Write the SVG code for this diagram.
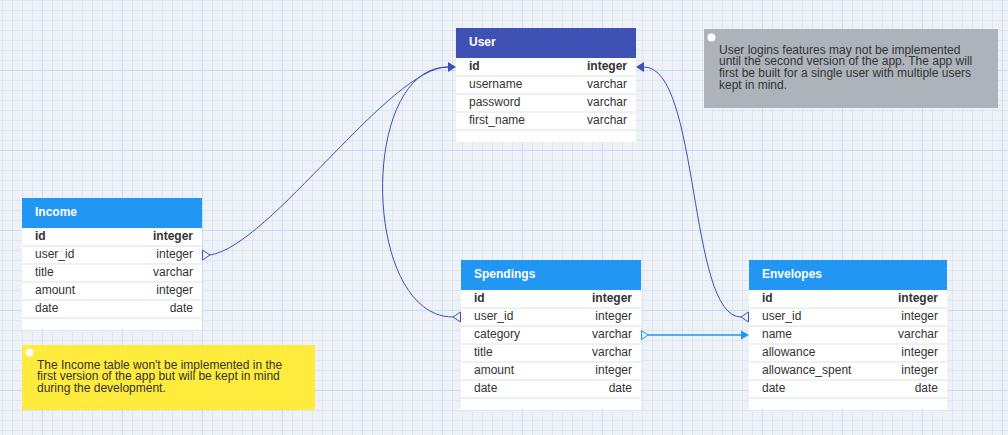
<svg xmlns="http://www.w3.org/2000/svg" width="1008" height="435" viewBox="0 0 1008 435">
<defs>
<pattern id="grid" x="42" y="70" width="80" height="80" patternUnits="userSpaceOnUse">
<path d="M10.5 0V80M20.5 0V80M30.5 0V80M40.5 0V80M50.5 0V80M60.5 0V80M70.5 0V80M0 10.5H80M0 20.5H80M0 30.5H80M0 40.5H80M0 50.5H80M0 60.5H80M0 70.5H80" stroke="#DCE7F5" stroke-width="1" fill="none"/>
<path d="M0.5 0V80M0 0.5H80" stroke="#CADCF3" stroke-width="1" fill="none"/>
</pattern>
<style>
text{font-family:"Liberation Sans",Arial,Helvetica,sans-serif;font-size:12px;fill:#333}
.hd{font-weight:bold;fill:#fff}
.b{font-weight:bold}
.r{text-anchor:end}
.body{fill:#fff}
.sep{stroke:#EEF0F3;stroke-width:2}
.cn{fill:none;stroke:#3F51B5;stroke-width:1}
.cl{fill:none;stroke:#2196F3;stroke-width:1.5}
.note{font-size:12px;fill:#333}
</style>
</defs>
<rect width="1008" height="435" fill="#EEF1F5"/>
<rect width="1008" height="435" fill="url(#grid)"/>

<g id="connectors">
<path class="cn" d="M210,255 C270,246 390,67 448,67"/>
<path class="cn" d="M453,317 C362,317 358,67 448,67"/>
<path class="cn" d="M644,67 C700,67 688,317 741,317"/>
<polygon points="448,62 456,67 448,72" fill="#3F51B5"/>
<polygon points="644,62 636,67 644,72" fill="#3F51B5"/>
<polygon class="cn" points="202.5,250 210,255 202.5,260"/>
<polygon class="cn" points="460.5,312 453,317 460.5,322"/>
<polygon class="cn" points="748.5,312 741,317 748.5,322"/>
<path class="cl" d="M648,335 L742,335"/>
<polygon points="641.5,330.5 648,335 641.5,339.5" fill="none" stroke="#2196F3" stroke-width="1"/>
<polygon points="741,330.5 749,335 741,339.5" fill="#2196F3"/>
</g>

<g id="user">
<rect x="456" y="28" width="180" height="30" fill="#3F51B5"/>
<rect class="body" x="456" y="58" width="180" height="84"/>
<path class="sep" d="M456 76H636M456 94H636M456 112H636M456 130H636"/>
<text class="hd" x="469" y="46">User</text>
<text class="b" x="469" y="70">id</text><text class="b r" x="627" y="70">integer</text>
<text x="469" y="88">username</text><text class="r" x="627" y="88">varchar</text>
<text x="469" y="106">password</text><text class="r" x="627" y="106">varchar</text>
<text x="469" y="124">first_name</text><text class="r" x="627" y="124">varchar</text>
</g>

<g id="income">
<rect x="22" y="198" width="180" height="30" fill="#2196F3"/>
<rect class="body" x="22" y="228" width="180" height="102"/>
<path class="sep" d="M22 246H202M22 264H202M22 282H202M22 300H202M22 318H202"/>
<text class="hd" x="35" y="216">Income</text>
<text class="b" x="35" y="240">id</text><text class="b r" x="193" y="240">integer</text>
<text x="35" y="258">user_id</text><text class="r" x="193" y="258">integer</text>
<text x="35" y="276">title</text><text class="r" x="193" y="276">varchar</text>
<text x="35" y="294">amount</text><text class="r" x="193" y="294">integer</text>
<text x="35" y="312">date</text><text class="r" x="193" y="312">date</text>
</g>

<g id="spendings">
<rect x="461" y="260" width="180" height="30" fill="#2196F3"/>
<rect class="body" x="461" y="290" width="180" height="120"/>
<path class="sep" d="M461 308H641M461 326H641M461 344H641M461 362H641M461 380H641M461 398H641"/>
<text class="hd" x="474" y="278">Spendings</text>
<text class="b" x="474" y="302">id</text><text class="b r" x="632" y="302">integer</text>
<text x="474" y="320">user_id</text><text class="r" x="632" y="320">integer</text>
<text x="474" y="338">category</text><text class="r" x="632" y="338">varchar</text>
<text x="474" y="356">title</text><text class="r" x="632" y="356">varchar</text>
<text x="474" y="374">amount</text><text class="r" x="632" y="374">integer</text>
<text x="474" y="392">date</text><text class="r" x="632" y="392">date</text>
</g>

<g id="envelopes">
<rect x="749" y="260" width="198" height="30" fill="#2196F3"/>
<rect class="body" x="749" y="290" width="198" height="120"/>
<path class="sep" d="M749 308H947M749 326H947M749 344H947M749 362H947M749 380H947M749 398H947"/>
<text class="hd" x="762" y="278">Envelopes</text>
<text class="b" x="762" y="302">id</text><text class="b r" x="938" y="302">integer</text>
<text x="762" y="320">user_id</text><text class="r" x="938" y="320">integer</text>
<text x="762" y="338">name</text><text class="r" x="938" y="338">varchar</text>
<text x="762" y="356">allowance</text><text class="r" x="938" y="356">integer</text>
<text x="762" y="374">allowance_spent</text><text class="r" x="938" y="374">integer</text>
<text x="762" y="392">date</text><text class="r" x="938" y="392">date</text>
</g>

<g id="note-user">
<rect x="704" y="29" width="294" height="79" fill="#ADB3BA"/>
<circle cx="711.5" cy="37.5" r="4" fill="#fff"/>
<text class="note" x="719" y="53.5">User logins features may not be implemented</text>
<text class="note" x="719" y="65.3">until the second version of the app. The app will</text>
<text class="note" x="719" y="77.1">first be built for a single user with multiple users</text>
<text class="note" x="719" y="88.9">kept in mind.</text>
</g>

<g id="note-income">
<rect x="22" y="345" width="293" height="65" fill="#FFEB3B"/>
<circle cx="29.5" cy="352.5" r="4" fill="#fff"/>
<text class="note" x="37" y="368.5">The Income table won't be implemented in the</text>
<text class="note" x="37" y="380.2">first version of the app but will be kept in mind</text>
<text class="note" x="37" y="391.9">during the development.</text>
</g>
</svg>
